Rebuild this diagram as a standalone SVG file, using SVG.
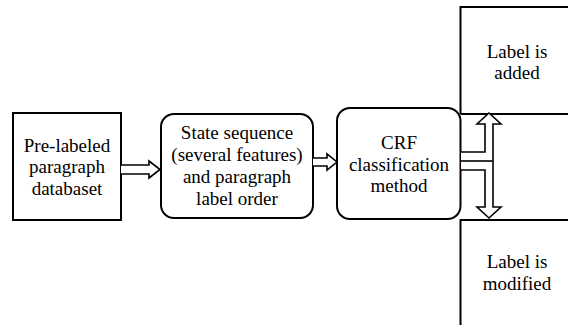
<svg xmlns="http://www.w3.org/2000/svg" width="568" height="325" viewBox="0 0 568 325">
<style>
.box{fill:#fff;stroke:#000;stroke-width:2}
.ln{fill:none;stroke:#000;stroke-width:2}
.arr{fill:#fff;stroke:#000;stroke-width:1.6;stroke-linejoin:miter}
text{font-family:"Liberation Serif","Times New Roman",serif;font-size:19px;fill:#000;text-anchor:middle}
</style>
<rect width="568" height="325" fill="#fff"/>
<g id="added">
<path class="ln" d="M460.5,114 V7 H568 M460.5,114 H568"/>
<text x="517" y="58">Label is</text>
<text x="517" y="79">added</text>
</g>
<g id="modified">
<path class="ln" d="M460.5,325 V220 H568"/>
<text x="517" y="268">Label is</text>
<text x="517" y="290">modified</text>
</g>
<g id="prelabeled">
<rect class="box" x="13" y="113" width="108" height="107"/>
<text x="67" y="152">Pre-labeled</text>
<text x="67" y="173">paragraph</text>
<text x="67" y="195">databaset</text>
</g>
<g id="state">
<rect class="box" x="161" y="114" width="152" height="104" rx="13"/>
<text x="237" y="139">State sequence</text>
<text x="237" y="161">(several features)</text>
<text x="237" y="183">and paragraph</text>
<text x="237" y="205">label order</text>
</g>
<g id="crf">
<rect class="box" x="337" y="108" width="123.5" height="111" rx="13"/>
<text x="399" y="149">CRF</text>
<text x="399" y="171">classification</text>
<text x="399" y="192">method</text>
</g>
<g id="connectors">
<path class="arr" d="M121,165 H149 V161 L160,169.5 L149,178 V174 H121"/>
<path class="arr" d="M313,158 H327 V154 L337,162 L327,170 V166 H313"/>
<path class="arr" d="M461,152 H485 V124 H477 L489,113 L501,124 H493 V207 H501 L489,218 L477,207 H485 V170 H461"/>
<path class="arr" d="M461,161 H493"/>
</g>
</svg>
